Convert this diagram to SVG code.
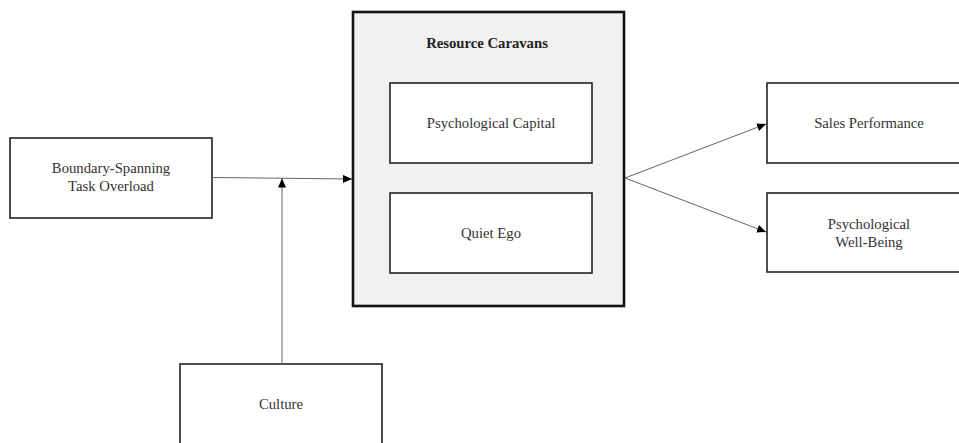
<svg xmlns="http://www.w3.org/2000/svg" width="959" height="443" viewBox="0 0 959 443">
<defs>
<marker id="ah" markerWidth="10" markerHeight="8" refX="9" refY="4" orient="auto" markerUnits="userSpaceOnUse">
<path d="M0,0 L9,4 L0,8 Z" fill="#000"/>
</marker>
<style>
.box{fill:#fff;stroke:#222;stroke-width:1.6}
.big{fill:#f1f1f1;stroke:#111;stroke-width:2.6}
.t{font-family:"Liberation Serif","Times New Roman",serif;font-size:14.7px;fill:#333;text-anchor:middle}
.b{font-weight:bold;fill:#222}
.c{stroke:#555;stroke-width:0.9;fill:none}
</style>
</defs>
<rect width="959" height="443" fill="#fff"/>
<g id="boundary">
<rect class="box" x="10" y="138" width="202" height="80"/>
<text class="t" x="111" y="173">Boundary-Spanning</text>
<text class="t" x="111" y="191">Task Overload</text>
</g>
<g id="resource-caravans">
<rect class="big" x="353" y="12" width="271" height="294"/>
<text class="t b" x="487" y="48">Resource Caravans</text>
</g>
<g id="psycap">
<rect class="box" x="390" y="83" width="202" height="80"/>
<text class="t" x="491" y="128">Psychological Capital</text>
</g>
<g id="quiet-ego">
<rect class="box" x="390" y="193" width="202" height="80"/>
<text class="t" x="491" y="238">Quiet Ego</text>
</g>
<g id="sales">
<rect class="box" x="767" y="83" width="200" height="80"/>
<text class="t" x="869" y="128">Sales Performance</text>
</g>
<g id="wellbeing">
<rect class="box" x="767" y="193" width="200" height="79"/>
<text class="t" x="869" y="229">Psychological</text>
<text class="t" x="869" y="247">Well-Being</text>
</g>
<g id="culture">
<rect class="box" x="180" y="364" width="202" height="90"/>
<text class="t" x="281" y="409">Culture</text>
</g>
<g id="connectors">
<line class="c" x1="212" y1="177.5" x2="352" y2="179" marker-end="url(#ah)"/>
<line class="c" x1="282" y1="364" x2="282" y2="178.5" marker-end="url(#ah)"/>
<line class="c" x1="625" y1="178" x2="766" y2="124" marker-end="url(#ah)"/>
<line class="c" x1="625" y1="178" x2="766" y2="232" marker-end="url(#ah)"/>
</g>
</svg>
